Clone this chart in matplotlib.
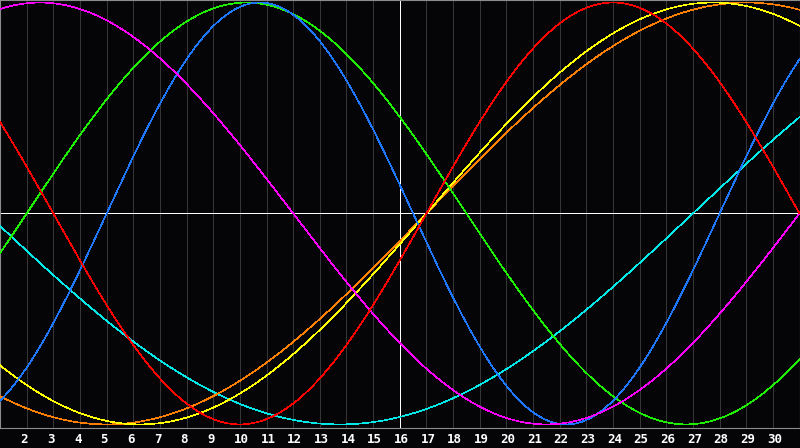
import numpy as np
import matplotlib
matplotlib.use("Agg")
import matplotlib.pyplot as plt
from matplotlib.transforms import offset_copy

# --- data ---
first_day = 1
last_day = 31
today = 16
label_days = list(range(2, 31))                 # tick labels shown under the axis
cycles = ["physical", "emotional", "intellectual", "intuitive",
          "aesthetic", "awareness", "spiritual"]
periods = [23, 28, 33, 38, 43, 48, 53]          # cycle length in days
zero_up_day = [5, 17, 2, -7, 17, 17, 27]        # day where the cycle crosses 0 going up
colors = ["#1e78ff", "#ff0000", "#1eef00", "#ff00ff",
          "#ffff00", "#ff7f00", "#00e8e8"]
draw_order = [6, 5, 4, 2, 0, 3, 1]

BG = "#050508"
GRID = "#363636"
FRAME = "#8c8c8c"

fig = plt.figure(figsize=(8, 4.48), dpi=100, facecolor=BG)
# plot box runs from the top edge down to y=428 px
ax = fig.add_axes([0, 20 / 448, 799.5 / 800, 428 / 448])
ax.set_facecolor(BG)

x = np.linspace(first_day, last_day, 1200)

# day grid
for d in range(first_day + 1, last_day):
    if d == today:
        continue
    ax.axvline(d, color=GRID, lw=0.6, zorder=1, antialiased=False)

# centre line and "today" line
ax.axhline(0, color="white", lw=0.7, zorder=2, antialiased=False)
ax.axvline(today, color="white", lw=0.7, zorder=2, antialiased=False)

# the cycles
for i in draw_order:
    y = np.sin(2 * np.pi * (x - zero_up_day[i]) / periods[i])
    ax.plot(x, y, color=colors[i], lw=0.45, zorder=3, antialiased=False,
            label=cycles[i])

ax.set_xlim(first_day, last_day)
ax.set_ylim(-1.017, 1.012)
ax.set_xticks([])
ax.set_yticks([])
for s in ax.spines.values():
    s.set_color(FRAME)
    s.set_linewidth(0.8)

# day numbers, drawn a little left of each grid line
lab_tr = offset_copy(ax.get_xaxis_transform(), fig=fig, x=-6, y=-11, units="dots")
for d in label_days:
    ax.text(d, 0, str(d), transform=lab_tr, color="white", fontsize=9,
            fontweight="bold", family="DejaVu Sans Mono",
            ha="left", va="center", clip_on=False)

fig.savefig("out.png", dpi=100, facecolor=BG)
